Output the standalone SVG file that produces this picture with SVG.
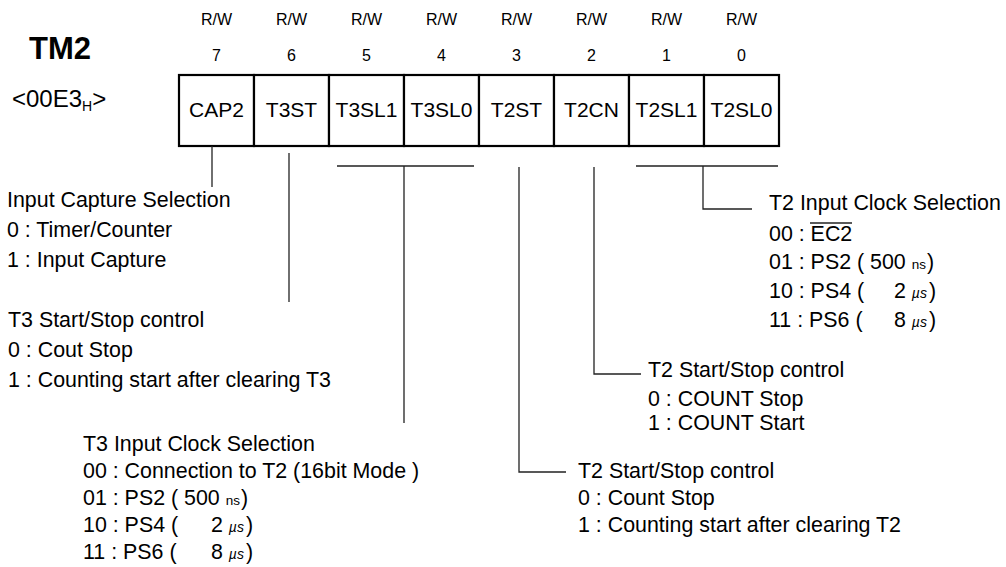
<svg xmlns="http://www.w3.org/2000/svg" width="1006" height="567" viewBox="0 0 1006 567">
<style>
text{font-family:"Liberation Sans",Arial,sans-serif;fill:#000}
.t{font-size:21.4px}
.h{font-size:16px;text-anchor:middle}
.c{font-size:21px;text-anchor:middle}
.s{font-size:13.5px}
.u{font-size:14px;font-style:italic}
.cell{fill:#fff;stroke:#000;stroke-width:2.2}
.ln{stroke:#222;stroke-width:1.3;fill:none}
</style>
<rect width="1006" height="567" fill="#fff"/>
<g id="title">
<text x="29" y="59" style="font-size:31px;font-weight:bold">TM2</text>
<text x="12" y="107" style="font-size:24px">&lt;00E3<tspan style="font-size:14px" dy="4">H</tspan><tspan dy="-4">&gt;</tspan></text>
</g>
<g id="bitheaders">
<text class="h" x="216.5" y="25">R/W</text><text class="h" x="291.5" y="25">R/W</text><text class="h" x="366.5" y="25">R/W</text><text class="h" x="441.5" y="25">R/W</text>
<text class="h" x="516.5" y="25">R/W</text><text class="h" x="591.5" y="25">R/W</text><text class="h" x="666.5" y="25">R/W</text><text class="h" x="741.5" y="25">R/W</text>
<text class="h" x="216.5" y="61">7</text><text class="h" x="291.5" y="61">6</text><text class="h" x="366.5" y="61">5</text><text class="h" x="441.5" y="61">4</text>
<text class="h" x="516.5" y="61">3</text><text class="h" x="591.5" y="61">2</text><text class="h" x="666.5" y="61">1</text><text class="h" x="741.5" y="61">0</text>
</g>
<g id="register">
<g id="bit7"><rect class="cell" x="179" y="75" width="75" height="71"/><text class="c" x="216.5" y="117">CAP2</text></g>
<g id="bit6"><rect class="cell" x="254" y="75" width="75" height="71"/><text class="c" x="291.5" y="117">T3ST</text></g>
<g id="bit5"><rect class="cell" x="329" y="75" width="75" height="71"/><text class="c" x="366.5" y="117">T3SL1</text></g>
<g id="bit4"><rect class="cell" x="404" y="75" width="75" height="71"/><text class="c" x="441.5" y="117">T3SL0</text></g>
<g id="bit3"><rect class="cell" x="479" y="75" width="75" height="71"/><text class="c" x="516.5" y="117">T2ST</text></g>
<g id="bit2"><rect class="cell" x="554" y="75" width="75" height="71"/><text class="c" x="591.5" y="117">T2CN</text></g>
<g id="bit1"><rect class="cell" x="629" y="75" width="75" height="71"/><text class="c" x="666.5" y="117">T2SL1</text></g>
<g id="bit0"><rect class="cell" x="704" y="75" width="75" height="71"/><text class="c" x="741.5" y="117">T2SL0</text></g>
</g>
<g id="connectors">
<path class="ln" d="M212 146V187"/>
<path class="ln" d="M289 153V302"/>
<path class="ln" d="M337 166H474M404 166V423"/>
<path class="ln" d="M519 167V472H566"/>
<path class="ln" d="M594 167V374H641"/>
<path class="ln" d="M636 166H778M703 166V209H752"/>
</g>
<g id="desc-cap2">
<text class="t" x="7" y="207">Input Capture Selection</text>
<text class="t" x="7" y="237">0 : Timer/Counter</text>
<text class="t" x="7" y="267">1 : Input Capture</text>
</g>
<g id="desc-t3st">
<text class="t" x="8" y="327">T3 Start/Stop control</text>
<text class="t" x="8" y="357">0 : Cout Stop</text>
<text class="t" x="8" y="387">1 : Counting start after clearing T3</text>
</g>
<g id="desc-t3sl">
<text class="t" x="83" y="451">T3 Input Clock Selection</text>
<text class="t" x="83" y="478">00 : Connection to T2 (16bit Mode )</text>
<text class="t" x="83" y="505">01 : PS2 ( 500 <tspan class="s">ns</tspan><tspan dx="1">)</tspan></text>
<text class="t" x="83" y="532">10 : PS4 ( <tspan x="211">2 </tspan><tspan class="u">µs</tspan><tspan dx="2">)</tspan></text>
<text class="t" x="83" y="559">11 : PS6 ( <tspan x="211">8 </tspan><tspan class="u">µs</tspan><tspan dx="2">)</tspan></text>
</g>
<g id="desc-t2st">
<text class="t" x="578" y="478">T2 Start/Stop control</text>
<text class="t" x="578" y="505">0 : Count Stop</text>
<text class="t" x="578" y="532">1 : Counting start after clearing T2</text>
</g>
<g id="desc-t2cn">
<text class="t" x="648" y="377">T2 Start/Stop control</text>
<text class="t" x="648" y="406">0 : COUNT Stop</text>
<text class="t" x="648" y="430">1 : COUNT Start</text>
</g>
<g id="desc-t2sl">
<text class="t" x="769" y="210">T2 Input Clock Selection</text>
<text class="t" x="769" y="241">00 : EC2</text>
<line class="ln" x1="810" y1="223" x2="852" y2="223"/>
<text class="t" x="769" y="269">01 : PS2 ( 500 <tspan class="s">ns</tspan><tspan dx="1">)</tspan></text>
<text class="t" x="769" y="298">10 : PS4 ( <tspan x="894">2 </tspan><tspan class="u">µs</tspan><tspan dx="2">)</tspan></text>
<text class="t" x="769" y="327">11 : PS6 ( <tspan x="894">8 </tspan><tspan class="u">µs</tspan><tspan dx="2">)</tspan></text>
</g>
</svg>
